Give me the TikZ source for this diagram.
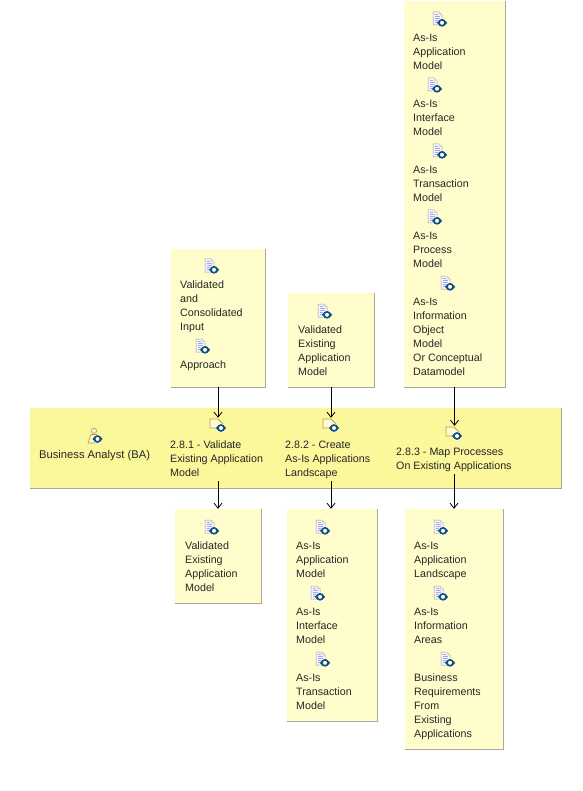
\documentclass[tikz,border=0pt]{standalone}
\usepackage{fontspec}
\setmainfont{Liberation Sans}
\usetikzlibrary{arrows.meta}
\definecolor{boxfill}{HTML}{FFFDCB}
\definecolor{bandfill}{HTML}{FBF79B}
\definecolor{edgegray}{HTML}{A8A8A0}
\definecolor{tan}{HTML}{C09A50}
\definecolor{teal}{HTML}{14527A}
\tikzset{
  x=1pt,y=-1pt,
  lbl/.style={anchor=north west,inner sep=0pt,align=left,text=black!85,
    font=\fontsize{10.7}{14}\selectfont,execute at begin node=\strut},
  panel/.style={fill=boxfill,draw=none,inner sep=0pt},
  band/.style={fill=bandfill,draw=none,inner sep=0pt},
  shade edge/.style={draw=edgegray,line width=.9pt},
  flow/.style={draw=black,line width=.8pt,-{Straight Barb[length=5pt,width=8pt,line width=.8pt]}},
  iconspot/.style={inner sep=0pt,minimum size=16pt},
  pics/swirl/.style={code={
    \fill[white] (0,0) circle (4.6);
    \draw[teal,line width=1.7pt] (0,0) circle (3);
    \fill[teal] (-5.2,0) -- (-2.4,-2.8) -- (-2.4,2.8) -- cycle;
    \fill[teal] (5.2,0) -- (2.4,-2.8) -- (2.4,2.8) -- cycle;
    \fill[white] (0,0) circle (1.5);
  }},
  pics/docicon/.style={code={
    \draw[fill=black!4,draw=black!38,line width=.5pt] (-7,-7) -- (-1,-7) -- (2,-4) -- (2,6) -- (-7,6) -- cycle;
    \fill[black!15] (-1,-7) -- (2,-4) -- (-1,-4) -- cycle;
    \draw[blue!35!white,line width=.6pt] (-5.5,-4.5) -- (-2,-4.5) (-5.5,-2.5) -- (0,-2.5) (-5.5,-.5) -- (0,-.5) (-5.5,1.5) -- (-2,1.5) (-5.5,3.5) -- (-3,3.5);
    \pic at (2,3.8) {swirl};
  }},
  pics/taskicon/.style={code={
    \draw[fill=bandfill!45!white,draw=tan,line width=.8pt] (-8,-7) -- (0,-7) -- (6,-1) -- (6,2) -- (-8,2) -- cycle;
    \pic at (3,2) {swirl};
  }},
  pics/personicon/.style={code={
    \draw[fill=bandfill!45!white,draw=tan,line width=.7pt] (-1,-5.2) circle (2.6);
    \draw[fill=bandfill!45!white,draw=tan,line width=.7pt] (-7,7) -- (-4,-1.5) -- (2,-1.5) -- (3,7) -- cycle;
    \pic at (2.5,3) {swirl};
  }},
}
\newcommand{\panelbox}[6]{% style,name,x1,y1,x2,y2
  \pgfmathsetmacro{\bw}{#5-#3}\pgfmathsetmacro{\bh}{#6-#4}
  \pgfmathsetmacro{\bx}{(#3+#5)/2}\pgfmathsetmacro{\by}{(#4+#6)/2}
  \node[#1,minimum width=\bw pt,minimum height=\bh pt] (#2) at (\bx,\by) {};
  \draw[shade edge] (#2.north east) -- (#2.south east) -- (#2.south west);
}
\begin{document}
\begin{tikzpicture}
\useasboundingbox (0,0) rectangle (582,791);
\fill[white] (0,0) rectangle (582,791);
% panels
\panelbox{panel}{inA}{171}{249}{265}{387}
\panelbox{panel}{inB}{288}{293}{374}{387}
\panelbox{panel}{inC}{404}{1}{505}{387}
\panelbox{band}{lane}{30}{408}{561}{488}
\panelbox{panel}{outA}{175}{509}{261}{603}
\panelbox{panel}{outB}{287}{509}{377}{721}
\panelbox{panel}{outC}{405}{509}{503}{749}
% task icon spots and labels
\node[iconspot] (taskA) at (218,426) {};
\node[iconspot] (taskB) at (331,426) {};
\node[iconspot] (taskC) at (454,434) {};
\node[lbl,font=\fontsize{11.2}{14}\selectfont] (roleL) at (39,448) {Business Analyst (BA)};
\node[lbl] (taskAL) at (170,441) {2.8.1 - Validate\\Existing Application\\Model};
\node[lbl] (taskBL) at (285,441) {2.8.2 - Create\\As-Is Applications\\Landscape};
\node[lbl] (taskCL) at (396,448) {2.8.3 - Map Processes\\On Existing Applications};
% connectors
\draw[flow] (inA.south) -- (inA.south |- taskA.north);
\draw[flow] (inB.south) -- (inB.south |- taskB.north);
\draw[flow] (inC.south) -- (inC.south |- taskC.north);
\draw[flow] (taskA |- taskAL.south) -- (taskA |- outA.north);
\draw[flow] (taskB |- taskBL.south) -- (taskB |- outB.north);
\draw[flow] (taskC |- taskCL.south) -- (taskC |- outC.north);
% lane icons
\pic at (taskA) {taskicon};
\pic at (taskB) {taskicon};
\pic at (taskC) {taskicon};
\pic at (95,436) {personicon};
% input A
\pic at (212,266) {docicon};
\node[lbl] (a1) at (180,281) {Validated\\and\\Consolidated\\Input};
\pic at (203,346) {docicon};
\node[lbl] (a2) at (180,358) {Approach};
% input B
\pic at (325,311) {docicon};
\node[lbl] (b1) at (298,326) {Validated\\Existing\\Application\\Model};
% input C
\pic at (440,19) {docicon};
\node[lbl] (c1) at (413,34) {As-Is\\Application\\Model};
\pic at (435,85) {docicon};
\node[lbl] (c2) at (413,100) {As-Is\\Interface\\Model};
\pic at (440,151) {docicon};
\node[lbl] (c3) at (413,166) {As-Is\\Transaction\\Model};
\pic at (435,217) {docicon};
\node[lbl] (c4) at (413,232) {As-Is\\Process\\Model};
\pic at (448,283) {docicon};
\node[lbl] (c5) at (413,298) {As-Is\\Information\\Object\\Model\\Or Conceptual\\Datamodel};
% output A
\pic at (212,527) {docicon};
\node[lbl] (d1) at (185,542) {Validated\\Existing\\Application\\Model};
% output B
\pic at (323,527) {docicon};
\node[lbl] (e1) at (296,542) {As-Is\\Application\\Model};
\pic at (318,593) {docicon};
\node[lbl] (e2) at (296,608) {As-Is\\Interface\\Model};
\pic at (323,659) {docicon};
\node[lbl] (e3) at (296,674) {As-Is\\Transaction\\Model};
% output C
\pic at (441,527) {docicon};
\node[lbl] (f1) at (414,542) {As-Is\\Application\\Landscape};
\pic at (441,593) {docicon};
\node[lbl] (f2) at (414,608) {As-Is\\Information\\Areas};
\pic at (448,659) {docicon};
\node[lbl] (f3) at (414,674) {Business\\Requirements\\From\\Existing\\Applications};
\end{tikzpicture}
\end{document}
